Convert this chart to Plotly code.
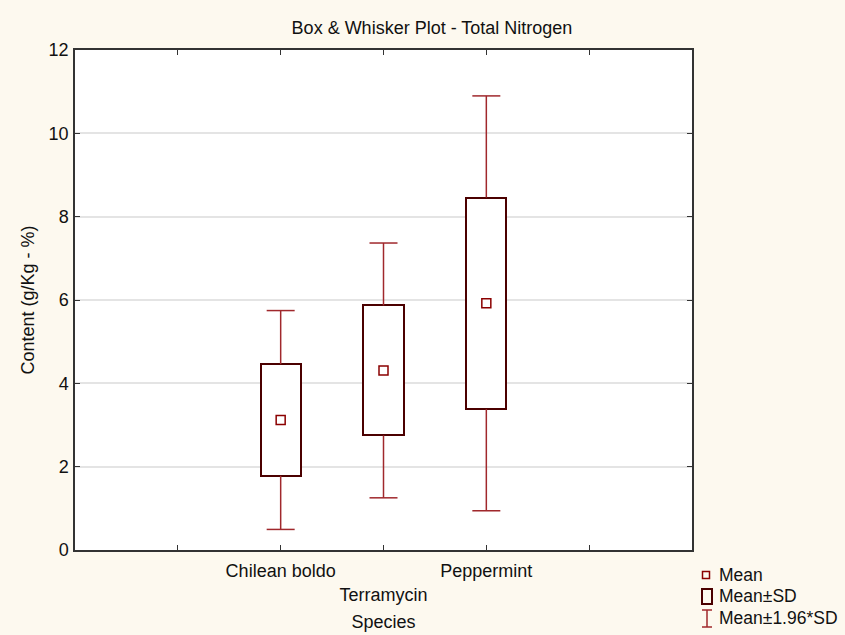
import plotly.graph_objects as go

# Total nitrogen content per species: mean and standard deviation (g/Kg - %)
species = ["Chilean boldo", "Terramycin", "Peppermint"]
mean_n = [3.12, 4.31, 5.92]
sd_n = [1.34, 1.56, 2.54]
z_factor = 1.96

# x-axis slots: species sit in the middle of a 0..6 axis
slot_offset = 2
xpos = [i + slot_offset for i in range(len(species))]
tick_vals = [1, 2, 3, 4, 5]
tick_text = ["", species[0], "<br>" + species[1], species[2], ""]

box_lo = [m - s for m, s in zip(mean_n, sd_n)]
box_hi = [m + s for m, s in zip(mean_n, sd_n)]
wh_lo = [m - z_factor * s for m, s in zip(mean_n, sd_n)]
wh_hi = [m + z_factor * s for m, s in zip(mean_n, sd_n)]

W, H = 845, 635
ML, MR, MT, MB = 75, 153, 50, 85

BG = "#FDF9EF"
BOX_C = "#4B0000"
WH_C = "#A0282C"
MEAN_C = "#8B0000"
FONT = "Liberation Sans, Arial, sans-serif"
FS = 18

fig = go.Figure()

# Mean ± SD boxes
fig.add_trace(go.Bar(
    x=xpos, y=[2 * s for s in sd_n], base=box_lo, width=0.39,
    marker=dict(color="white", line=dict(color=BOX_C, width=2)),
    showlegend=False, hoverinfo="skip",
))

# Whisker stems from box edge to mean ± 1.96*SD
stem_x, stem_y = [], []
for x, lo, hi, wl, wh in zip(xpos, box_lo, box_hi, wh_lo, wh_hi):
    stem_x += [x, x, None, x, x, None]
    stem_y += [hi, wh, None, lo, wl, None]
fig.add_trace(go.Scatter(
    x=stem_x, y=stem_y, mode="lines",
    line=dict(color=WH_C, width=1.5),
    showlegend=False, hoverinfo="skip",
))

# Whisker caps
fig.add_trace(go.Scatter(
    x=xpos + xpos, y=wh_hi + wh_lo, mode="markers",
    marker=dict(symbol="line-ew", size=20, line=dict(color=WH_C, width=1.5)),
    showlegend=False, hoverinfo="skip",
))

# Means
fig.add_trace(go.Scatter(
    x=xpos, y=mean_n, mode="markers",
    marker=dict(symbol="square-open", size=9, color=MEAN_C,
                line=dict(color=MEAN_C, width=1.5)),
    showlegend=False,
))

# Legend drawn in pixel space beside the plot
pw, ph = W - ML - MR, H - MT - MB


def px(xp):
    return (xp - ML) / pw


def py(yp):
    return (H - MB - yp) / ph


shapes = [
    dict(type="rect", xref="paper", yref="paper",
         x0=px(702.5), x1=px(709.5), y0=py(578.5), y1=py(571.5),
         line=dict(color=MEAN_C, width=1.5)),
    dict(type="rect", xref="paper", yref="paper",
         x0=px(702), x1=px(712), y0=py(604), y1=py(589),
         line=dict(color=BOX_C, width=2)),
    dict(type="line", xref="paper", yref="paper",
         x0=px(707), x1=px(707), y0=py(627), y1=py(610),
         line=dict(color=WH_C, width=1.5)),
    dict(type="line", xref="paper", yref="paper",
         x0=px(702), x1=px(712), y0=py(610), y1=py(610),
         line=dict(color=WH_C, width=1.5)),
    dict(type="line", xref="paper", yref="paper",
         x0=px(702), x1=px(712), y0=py(627), y1=py(627),
         line=dict(color=WH_C, width=1.5)),
]
legend_labels = ["Mean", "Mean±SD", "Mean±1.96*SD"]
legend_y = [575, 596, 618]
annotations = [
    dict(text=t, xref="paper", yref="paper", x=px(717), y=py(yy),
         xanchor="left", yanchor="middle", showarrow=False,
         font=dict(family=FONT, size=17.5, color="#111111"))
    for t, yy in zip(legend_labels, legend_y)
]

axis_common = dict(
    showline=True, linecolor="#333333", linewidth=1.5, mirror="ticks",
    ticks="inside", ticklen=5, tickwidth=1, tickcolor="#333333",
    tickfont=dict(family=FONT, size=FS, color="#111111"),
    zeroline=False, automargin=False,
)

fig.update_layout(
    width=W, height=H,
    margin=dict(l=ML, r=MR, t=MT, b=MB),
    paper_bgcolor=BG, plot_bgcolor="white",
    font=dict(family=FONT, size=FS, color="#111111"),
    title=dict(text="Box & Whisker Plot - Total Nitrogen",
               x=432 / W, xref="container", xanchor="center",
               y=1 - 28 / H, yref="container", yanchor="middle",
               font=dict(family=FONT, size=FS, color="#111111")),
    xaxis=dict(
        range=[0, 6], tickvals=tick_vals, ticktext=tick_text,
        showgrid=False, ticklabelstandoff=4,
        title=dict(text="Species", standoff=12,
                   font=dict(family=FONT, size=FS, color="#111111")),
        **axis_common,
    ),
    yaxis=dict(
        range=[0, 12], tickvals=[0, 2, 4, 6, 8, 10, 12],
        showgrid=True, gridcolor="#E4E4E4", gridwidth=1.5,
        ticklabelstandoff=1,
        title=dict(text="Content (g/Kg - %)", standoff=9,
                   font=dict(family=FONT, size=FS, color="#111111")),
        **axis_common,
    ),
    shapes=shapes,
    annotations=annotations,
    bargap=0,
)

fig.write_html("out.html")
